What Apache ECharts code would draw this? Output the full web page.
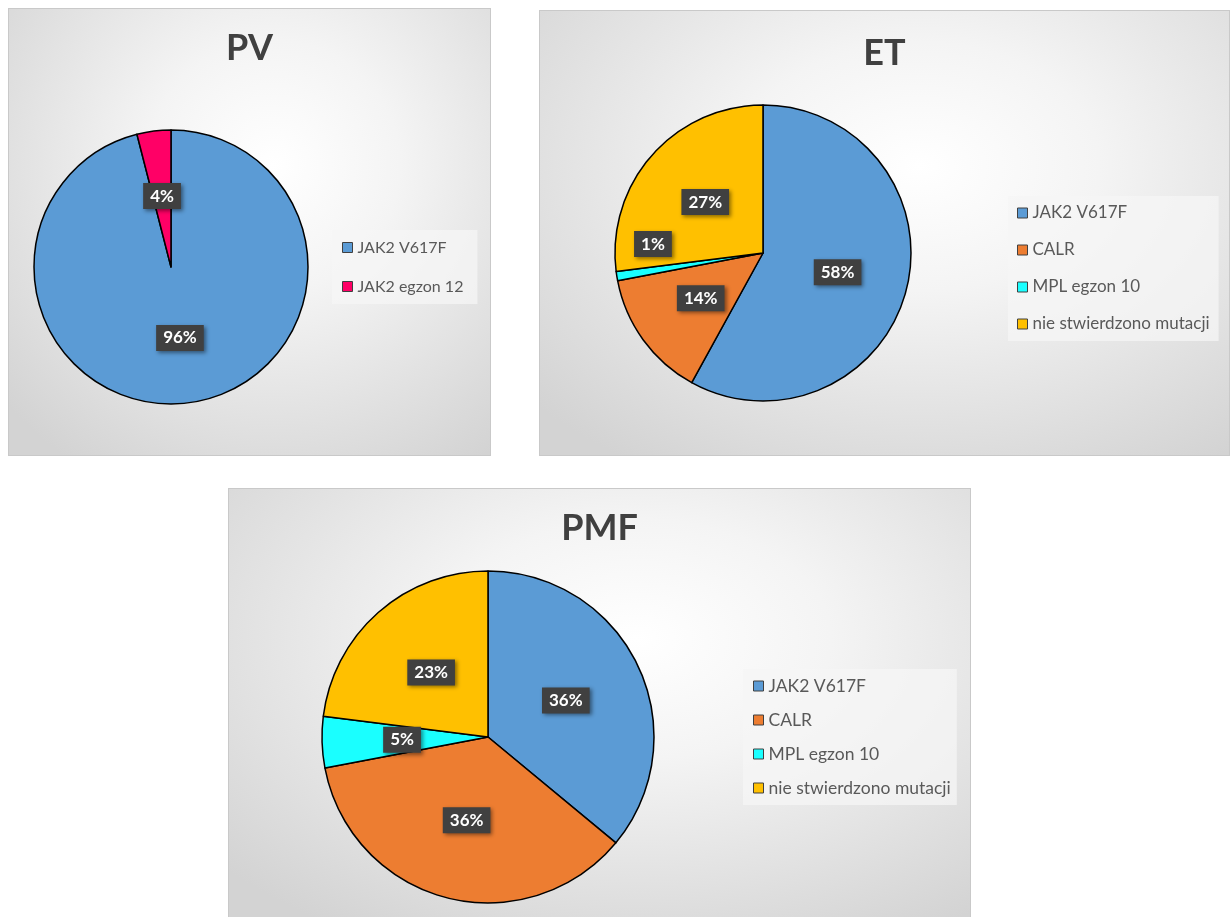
<!DOCTYPE html>
<html>
<head>
<meta charset="utf-8">
<script src="https://cdn.jsdelivr.net/npm/echarts@6/dist/echarts.min.js"></script>
<style>
  html, body { margin: 0; padding: 0; background: #fff; width: 1230px; height: 917px; overflow: hidden; }
  .panel {
    position: absolute; box-sizing: border-box; border: 1px solid #c9c9c9;
    background: radial-gradient(ellipse 75% 80% at 55% 35%, #ffffff 0%, #f4f4f4 35%, #d3d3d3 100%);
  }
</style>
</head>
<body>
<div id="pv" class="panel" style="left:8px;top:8px;width:483px;height:448px"></div>
<div id="et" class="panel" style="left:539px;top:10px;width:691px;height:446px"></div>
<div id="pmf" class="panel" style="left:228px;top:488px;width:743px;height:430px"></div>
<script>
// data
const pvCategories = ['JAK2 V617F', 'JAK2 egzon 12']
const pvValues = [96, 4]
const mutationCategories = ['JAK2 V617F', 'CALR', 'MPL egzon 10', 'nie stwierdzono mutacji']
const etValues = [58, 14, 1, 27]
const pmfValues = [36, 36, 5, 23]

const pvColors = ['#5B9BD5', '#FF0066']
const mutationColors = ['#5B9BD5', '#ED7D31', '#1AFFFF', '#FFC000']

const FONT = 'Lato, "Open Sans", sans-serif'

function makeOption(cfg) {
  return {
    title: {
      text: cfg.title,
      left: 'center',
      top: cfg.titleTop,
      padding: 0,
      textStyle: { fontFamily: FONT, fontSize: 36, fontWeight: 'bold', color: '#404040' },
    },
    legend: {
      orient: 'vertical',
      left: cfg.legendLeft,
      top: cfg.legendTop,
      padding: cfg.legendPadding,
      itemGap: cfg.itemGap,
      itemWidth: 10,
      itemHeight: 10,
      icon: 'rect',
      backgroundColor: 'rgba(246,246,246,0.75)',
      itemStyle: { borderColor: '#404040', borderWidth: 1 },
      textStyle: { fontFamily: FONT, fontSize: cfg.legendFont, color: '#595959', lineHeight: cfg.legendLine },
      data: cfg.categories,
    },
    series: [
      {
        type: 'pie',
        center: cfg.center,
        radius: cfg.radius,
        startAngle: 90,
        clockwise: true,
        avoidLabelOverlap: false,
        silent: true,
        itemStyle: { borderColor: '#000', borderWidth: 1.5 },
        label: {
          show: true,
          position: 'inside',
          formatter: '{d}%',
          color: '#fff',
          fontFamily: FONT,
          fontSize: 17,
          fontWeight: 'bold',
          backgroundColor: '#404040',
          padding: [5, 7, 4, 7],
          shadowColor: 'rgba(0,0,0,0.45)',
          shadowBlur: 4,
          shadowOffsetX: 2,
          shadowOffsetY: 2,
        },
        labelLayout: cfg.labelLayout,
        data: cfg.categories.map((name, i) => ({
          name,
          value: cfg.values[i],
          itemStyle: { color: cfg.colors[i] },
        })),
      },
    ],
  }
}

const charts = []

function draw(id, cfg) {
  const chart = echarts.init(document.getElementById(id), null, { renderer: 'canvas' })
  chart.setOption(makeOption(cfg))
  charts.push(chart)
}

draw('pv', {
  title: 'PV', titleTop: 21,
  categories: pvCategories, values: pvValues, colors: pvColors,
  center: [162, 258], radius: 137,
  legendLeft: 323, legendTop: 221, legendPadding: [9, 14, 9, 10],
  legendFont: 16, legendLine: 17, itemGap: 22,
})

draw('et', {
  title: 'ET', titleTop: 24,
  categories: mutationCategories, values: etValues, colors: mutationColors,
  center: [223, 242], radius: 148,
  legendLeft: 468, legendTop: 185, legendPadding: [8, 9, 8, 9],
  legendFont: 17, legendLine: 18, itemGap: 19,
  // the 1% label sits outside its thin slice
  labelLayout: (p) => (p.dataIndex === 2 ? { dx: -34, dy: -21 } : {}),
})

draw('pmf', {
  title: 'PMF', titleTop: 21,
  categories: mutationCategories, values: pmfValues, colors: mutationColors,
  center: [259, 248], radius: 166,
  legendLeft: 514, legendTop: 180, legendPadding: [8, 6, 8, 10],
  legendFont: 17.5, legendLine: 18, itemGap: 16,
})

window.addEventListener('resize', () => charts.forEach((c) => c.resize()))
</script>
</body>
</html>
